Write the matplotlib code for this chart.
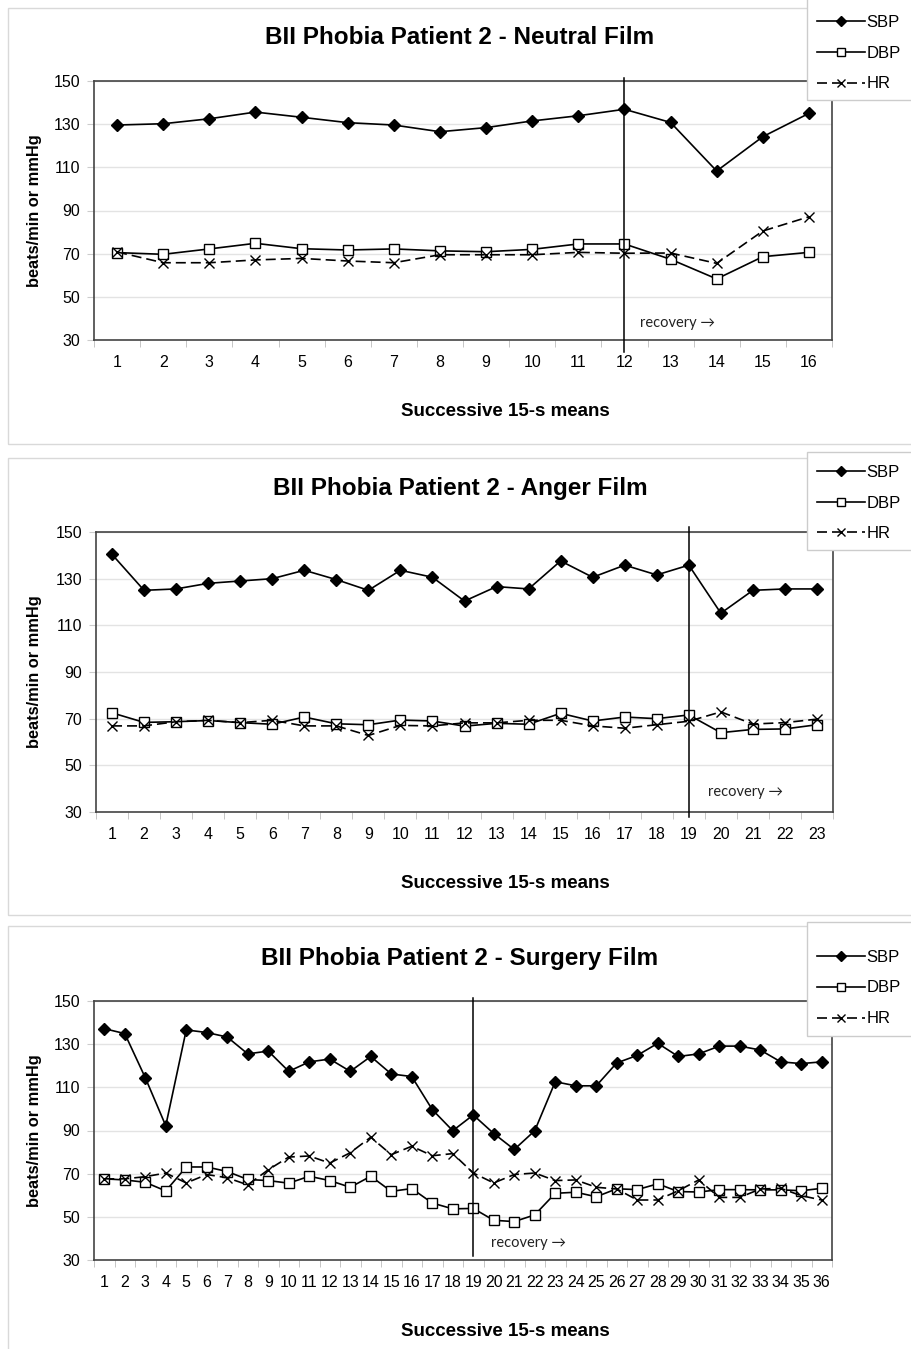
import matplotlib
matplotlib.use('Agg')
import matplotlib.pyplot as plt
from matplotlib.patches import Rectangle
from matplotlib.ticker import FixedLocator

# ---------------- data ----------------
neutral_sbp = [129.6, 130.2, 132.5, 135.6, 133.2, 130.7, 129.6, 126.5, 128.4, 131.5,
               133.9, 136.9, 130.8, 108.3, 124.2, 135.0]
neutral_dbp = [70.5, 69.7, 72.2, 74.8, 72.3, 71.7, 72.2, 71.3, 70.9, 72.0,
               74.5, 74.5, 67.4, 58.3, 68.6, 70.6]
neutral_hr = [70.8, 65.8, 65.8, 67.1, 67.8, 66.6, 65.8, 69.5, 69.5, 69.5,
              70.6, 70.2, 70.3, 65.5, 80.5, 87.1]

anger_sbp = [140.4, 125.0, 125.6, 128.0, 129.0, 130.0, 133.6, 129.6, 125.0, 133.6,
             130.6, 120.4, 126.6, 125.6, 137.6, 130.6, 135.8, 131.6, 135.8, 115.2,
             125.0, 125.6, 125.6]
anger_dbp = [72.5, 68.4, 68.7, 69.2, 68.3, 67.6, 70.7, 67.8, 67.4, 69.4,
             69.0, 66.8, 68.0, 67.6, 72.3, 69.0, 70.7, 70.0, 71.6, 64.0,
             65.4, 65.6, 67.4]
anger_hr = [66.9, 66.9, 68.7, 69.3, 68.3, 69.3, 66.9, 66.9, 62.8, 67.1,
            66.9, 68.2, 68.2, 69.3, 69.3, 66.9, 65.9, 67.4, 68.9, 72.9,
            67.7, 68.3, 69.8]

surgery_sbp = [137.2, 134.9, 114.5, 92.2, 136.6, 135.4, 133.3, 125.5, 126.8, 117.4,
               121.8, 123.1, 117.4, 124.3, 116.2, 115.0, 99.7, 89.9, 97.2, 88.6,
               81.2, 89.9, 112.6, 110.7, 110.7, 121.3, 124.8, 130.4, 124.3, 125.5,
               129.1, 129.1, 127.3, 121.8, 121.0, 121.8]
surgery_dbp = [67.6, 67.1, 66.0, 62.0, 73.1, 73.1, 71.0, 67.3, 66.8, 65.6,
               68.8, 66.8, 63.7, 68.8, 61.8, 63.1, 56.4, 53.7, 53.9, 48.4,
               47.8, 50.9, 60.9, 61.4, 59.3, 63.0, 62.6, 65.3, 61.7, 61.5,
               62.6, 62.6, 62.5, 62.5, 62.1, 63.2]
surgery_hr = [67.6, 67.6, 68.6, 70.3, 65.7, 69.6, 68.1, 64.8, 71.8, 77.7,
              78.2, 74.9, 79.7, 86.9, 78.8, 82.7, 78.3, 79.3, 70.3, 65.7,
              69.6, 70.3, 66.8, 67.1, 63.7, 62.9, 57.8, 57.8, 62.1, 67.1,
              59.0, 59.0, 62.9, 63.2, 59.8, 57.8]

titles = ["BII Phobia Patient 2 - Neutral Film",
          "BII Phobia Patient 2 - Anger Film",
          "BII Phobia Patient 2 - Surgery Film"]
recovery_start = [12, 19, 19]
series_labels = ["SBP", "DBP", "HR"]
y_ticks = [30, 50, 70, 90, 110, 130, 150]
x_label = "Successive 15-s means"
y_label = "beats/min or mmHg"
recovery_label = "recovery \u2192"

# ---------------- layout (pixels) ----------------
W, H = 911, 1349
fig = plt.figure(figsize=(W / 100, H / 100), dpi=100)
FONT = ['Liberation Sans', 'DejaVu Sans']


def fx(px):
    return px / W


def fy(py):
    return 1 - py / H


panels = [
    dict(sbp=neutral_sbp, dbp=neutral_dbp, hr=neutral_hr,
         ax=(94, 832, 81, 340), frame=(8, 8, 930, 444), title_y=38, xlabel_y=412,
         leg=(807, -5, 120, 100), leg_c=53, vline=(78, 352), rec=(640, 323)),
    dict(sbp=anger_sbp, dbp=anger_dbp, hr=anger_hr,
         ax=(96, 833, 532, 812), frame=(8, 458, 930, 915), title_y=488, xlabel_y=883,
         leg=(807, 452, 120, 550), leg_c=503, vline=(527, 817), rec=(708, 792)),
    dict(sbp=surgery_sbp, dbp=surgery_dbp, hr=surgery_hr,
         ax=(94, 832, 1001, 1260), frame=(8, 926, 930, 1360), title_y=958, xlabel_y=1331,
         leg=(807, 922, 120, 1036), leg_c=988, vline=(998, 1256), rec=(491, 1243)),
]

frame_col = '#d9d9d9'
for i, p in enumerate(panels):
    # outer panel frame
    x0, y0, x1, y1 = p['frame']
    fig.patches.append(Rectangle((fx(x0), fy(y1)), fx(x1) - fx(x0), fy(y0) - fy(y1),
                                 transform=fig.transFigure, fill=False,
                                 edgecolor=frame_col, linewidth=1.0, zorder=-1))
    l, r, t, b = p['ax']
    ax = fig.add_axes([fx(l), fy(b), fx(r) - fx(l), fy(t) - fy(b)])
    n = len(p['sbp'])
    xs = list(range(1, n + 1))
    h1, = ax.plot(xs, p['sbp'], color='black', lw=1.2, marker='D', markersize=6.5,
                  markerfacecolor='black', markeredgecolor='black', label=series_labels[0], zorder=4)
    h2, = ax.plot(xs, p['dbp'], color='black', lw=1.2, marker='s', markersize=6.5,
                  markerfacecolor='white', markeredgecolor='black', markeredgewidth=1.0,
                  label=series_labels[1], zorder=3)
    h3, = ax.plot(xs, p['hr'], color='black', lw=1.2, dashes=(6, 3), marker='x', markersize=7,
                  markeredgewidth=1.0, label=series_labels[2], zorder=3)

    ax.set_xlim(0.5, n + 0.5)
    ax.set_ylim(30, 150)
    ax.set_yticks(y_ticks)
    ax.set_xticks(xs)
    ax.xaxis.set_minor_locator(FixedLocator([k + 0.5 for k in range(0, n + 1)]))
    ax.grid(axis='y', color='#e3e3e3', lw=1.0, zorder=0)
    ax.set_axisbelow(True)
    ax.tick_params(axis='x', which='major', length=0, pad=11, labelsize=11.5)
    ax.tick_params(axis='x', which='minor', length=5, color='#bbbbbb', direction='out')
    ax.tick_params(axis='y', which='major', length=5, color='#cccccc', pad=5, labelsize=11.5)
    for lab in ax.get_xticklabels() + ax.get_yticklabels():
        lab.set_family(FONT)
    for s in ax.spines.values():
        s.set_color('#444444')
        s.set_linewidth(1.2)

    # recovery marker line
    vt, vb = p['vline']
    ymax = (b - vt) / (b - t)
    ymin = (b - vb) / (b - t)
    ax.axvline(recovery_start[i], ymin=ymin, ymax=ymax, color='black', lw=1.1,
               clip_on=False, zorder=5)
    rx, ry = p['rec']
    fig.text(fx(rx), fy(ry), recovery_label, ha='left', va='center', fontsize=10.5,
             family=['Lato', 'DejaVu Sans'], color='#222222')

    # titles
    fig.text(fx(460), fy(p['title_y']), titles[i], ha='center', va='center',
             fontsize=17.5, fontweight='bold', family=FONT)
    fig.text(fx(505), fy(p['xlabel_y']), x_label, ha='center', va='center',
             fontsize=13.5, fontweight='bold', family=FONT)
    fig.text(fx(35), fy((t + b) / 2), y_label, ha='center', va='center', rotation=90,
             fontsize=11.8, fontweight='bold', family=FONT)

    # legend box (white panel) + legend entries
    lx, ly0, lw_, ly1 = p['leg']
    fig.patches.append(Rectangle((fx(lx), fy(ly1)), fx(lx + lw_) - fx(lx), fy(ly0) - fy(ly1),
                                 transform=fig.transFigure, facecolor='white',
                                 edgecolor='#cccccc', linewidth=1.0, zorder=1))
    leg = fig.legend([h1, h2, h3], series_labels, loc='center left',
                     bbox_to_anchor=(fx(805), fy(p['leg_c'])),
                     bbox_transform=fig.transFigure, frameon=False, numpoints=1,
                     handlelength=2.9, handletextpad=0.1, labelspacing=0.95,
                     borderpad=0.2, markerscale=0.8, prop={'family': FONT, 'size': 12})
    leg.set_zorder(6)

fig.savefig('out.png', dpi=100)
